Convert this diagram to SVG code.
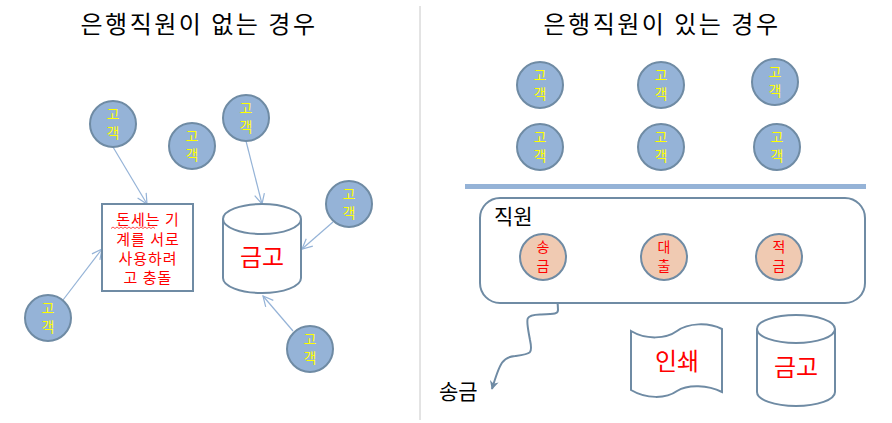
<svg xmlns="http://www.w3.org/2000/svg" width="892" height="423" viewBox="0 0 892 423">
<style>
  text { font-family: "Noto Sans CJK KR", "Noto Sans", sans-serif; }
  .cust circle { fill: #95B3D7; stroke: #6F8BA4; stroke-width: 2; }
  .cust text { fill: #FFFF00; font-size: 14px; text-anchor: middle; }
  .emp circle { fill: #F0CAB2; stroke: #6F8BA4; stroke-width: 2; }
  .emp text { fill: #FF0000; font-size: 14px; text-anchor: middle; }
  .shape { fill: #FFFFFF; stroke: #6F8BA4; stroke-width: 2; }
  .big { fill: #FF0000; font-size: 24px; text-anchor: middle; }
  .title { fill: #000000; font-size: 24px; letter-spacing: 2.5px; text-anchor: middle; }
  .lbl { fill: #000000; font-size: 21px; }
  .boxt { fill: #FF0000; font-size: 15px; letter-spacing: 1px; text-anchor: middle; }
  .thin { stroke: #95B3D7; stroke-width: 1.2; fill: none; marker-end: url(#open); }
</style>
<defs>
  <marker id="open" viewBox="0 0 12 12" refX="11" refY="6" markerWidth="12" markerHeight="12" markerUnits="userSpaceOnUse" orient="auto">
    <path d="M1,1 L11,6 L1,11" fill="none" stroke="#95B3D7" stroke-width="1.2"/>
  </marker>
  <marker id="solid" viewBox="0 0 10 10" refX="9" refY="5" markerWidth="9" markerHeight="9" markerUnits="userSpaceOnUse" orient="auto">
    <path d="M0,0 L10,5 L0,10 L3,5 Z" fill="#6F8BA4"/>
  </marker>
</defs>
<rect x="0" y="0" width="892" height="423" fill="#FFFFFF"/>

<line x1="420" y1="6" x2="420" y2="420" stroke="#C8C8C8" stroke-width="1"/>

<text class="title" x="199" y="33">은행직원이 없는 경우</text>
<text class="title" x="662" y="33">은행직원이 있는 경우</text>

<g id="connectors">
  <line class="thin" x1="113" y1="147" x2="147" y2="204"/>
  <line class="thin" x1="63" y1="300" x2="102" y2="249"/>
  <line class="thin" x1="246" y1="141" x2="262" y2="204"/>
  <line class="thin" x1="333" y1="222" x2="302" y2="249"/>
  <line class="thin" x1="293" y1="331" x2="263" y2="296"/>
  <path d="M553,279 C556,292 558,300 558,310 C558,314 555,314 540,314.5 C524,315 526,318 530,340 C533,354 531,354 515,356 C503,357 500,362 492,389" fill="none" stroke="#6F8BA4" stroke-width="2" marker-end="url(#solid)"/>
</g>

<g id="box-conflict">
  <rect class="shape" x="102" y="204" width="91" height="87"/>
  <text class="boxt" x="148" y="225">돈세는 기</text>
  <text class="boxt" x="148" y="245">계를 서로</text>
  <text class="boxt" x="148" y="264">사용하려</text>
  <text class="boxt" x="148" y="283">고 충돌</text>
  <path d="M111,228.5 l2,-1.5 l2,1.5 l2,-1.5 l2,1.5 l2,-1.5 l2,1.5 l2,-1.5 l2,1.5 l2,-1.5 l2,1.5 l2,-1.5 l2,1.5 l2,-1.5 l2,1.5 l2,-1.5 l2,1.5 l2,-1.5 l2,1.5 l2,-1.5 l2,1.5 l2,-1.5 l2,1.5" fill="none" stroke="#FF0000" stroke-width="0.7"/>
</g>

<g id="safe-left">
  <path class="shape" d="M223,219 L223,278 A39,15 0 0 0 301,278 L301,219 A39,15 0 0 0 223,219 Z"/>
  <path class="shape" d="M223,219 A39,15 0 0 0 301,219" fill="none"/>
  <text class="big" x="262" y="266">금고</text>
</g>

<g id="cust-l1" class="cust"><circle cx="113" cy="124" r="23"/><text x="113" y="119">고</text><text x="113" y="138">객</text></g>
<g id="cust-l2" class="cust"><circle cx="192" cy="146" r="23"/><text x="192" y="141">고</text><text x="192" y="160">객</text></g>
<g id="cust-l3" class="cust"><circle cx="246" cy="118" r="23"/><text x="246" y="113">고</text><text x="246" y="132">객</text></g>
<g id="cust-l4" class="cust"><circle cx="349" cy="204" r="23"/><text x="349" y="199">고</text><text x="349" y="218">객</text></g>
<g id="cust-l5" class="cust"><circle cx="310" cy="349" r="23"/><text x="310" y="344">고</text><text x="310" y="363">객</text></g>
<g id="cust-l6" class="cust"><circle cx="48" cy="318" r="23"/><text x="48" y="313">고</text><text x="48" y="332">객</text></g>

<g id="cust-r1" class="cust"><circle cx="540" cy="85" r="23"/><text x="540" y="80">고</text><text x="540" y="99">객</text></g>
<g id="cust-r2" class="cust"><circle cx="661" cy="85" r="23"/><text x="661" y="80">고</text><text x="661" y="99">객</text></g>
<g id="cust-r3" class="cust"><circle cx="775" cy="82" r="23"/><text x="775" y="77">고</text><text x="775" y="96">객</text></g>
<g id="cust-r4" class="cust"><circle cx="540" cy="147" r="23"/><text x="540" y="142">고</text><text x="540" y="161">객</text></g>
<g id="cust-r5" class="cust"><circle cx="661" cy="147" r="23"/><text x="661" y="142">고</text><text x="661" y="161">객</text></g>
<g id="cust-r6" class="cust"><circle cx="777" cy="147" r="23"/><text x="777" y="142">고</text><text x="777" y="161">객</text></g>

<g id="counter"><rect x="465" y="184" width="401" height="5" fill="#95B3D7"/></g>

<g id="staff">
  <rect class="shape" x="480" y="198" width="385" height="105" rx="20" ry="20"/>
  <text class="lbl" x="494" y="224">직원</text>
</g>

<g id="emp-1" class="emp"><circle cx="543" cy="257" r="23"/><text x="543" y="252">송</text><text x="543" y="271">금</text></g>
<g id="emp-2" class="emp"><circle cx="664" cy="257" r="23"/><text x="664" y="252">대</text><text x="664" y="271">출</text></g>
<g id="emp-3" class="emp"><circle cx="779" cy="257" r="23"/><text x="779" y="252">적</text><text x="779" y="271">금</text></g>

<g id="print">
  <path class="shape" d="M631,331 C646,340 666,339 677,331 C688,323 708,322 722,329 L722,392 C708,385 688,384 677,391 C666,399 646,399 631,390 Z"/>
  <text class="big" x="677" y="370">인쇄</text>
</g>

<g id="safe-right">
  <path class="shape" d="M757,329 L757,392 A39,14 0 0 0 835,392 L835,329 A39,14 0 0 0 757,329 Z"/>
  <path class="shape" d="M757,329 A39,14 0 0 0 835,329" fill="none"/>
  <text class="big" x="796" y="376">금고</text>
</g>

<g id="label-send"><text class="lbl" x="439" y="399">송금</text></g>
</svg>
